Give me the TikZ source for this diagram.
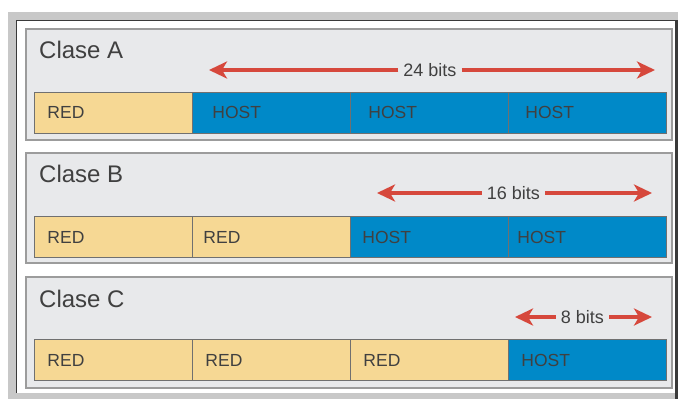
\documentclass[tikz,border=0pt]{standalone}
\usepackage{fontspec}
\setmainfont{Liberation Sans}
\usetikzlibrary{arrows.meta}
\definecolor{bandgray}{HTML}{C8C8C8}
\definecolor{darkline}{HTML}{3A3A3A}
\definecolor{panelfill}{HTML}{E8E9EB}
\definecolor{panelline}{HTML}{9C9C9C}
\definecolor{redfill}{HTML}{F6D894}
\definecolor{hostfill}{HTML}{0089C8}
\definecolor{segline}{HTML}{707070}
\definecolor{arrred}{HTML}{D6483C}
\definecolor{txt}{HTML}{404040}
\tikzset{
  panelbox/.style={draw=panelline, line width=1.6pt, fill=panelfill},
  seg/.style={draw=segline, line width=0.9pt, minimum width=158pt, minimum height=41pt,
    text width=132pt, align=left, inner xsep=13pt, inner ysep=0pt,
    text height=12.2pt, text depth=0pt, font=\fontsize{17.5}{17.5}\selectfont, text=txt, anchor=west},
  redseg/.style={seg, fill=redfill},
  hostseg/.style={seg, fill=hostfill, text=black!75},
  title/.style={anchor=base west, inner sep=0pt, font=\fontsize{24}{24}\selectfont, text=txt},
  bitslbl/.style={inner xsep=5pt, inner ysep=0pt, text height=13pt, text depth=0pt,
    font=\fontsize{18}{18}\selectfont, text=txt},
  arr/.style={draw=arrred, line width=3.6pt, -{Stealth[length=18pt,width=17pt,inset=5pt]}}
}
\begin{document}
\begin{tikzpicture}[x=1pt,y=-1pt]
\useasboundingbox (0,0) rectangle (681,399);
% outer frame
\fill[bandgray] (8,12) rectangle (678,399);
\fill[white] (16,20) rectangle (676,393);
\draw[darkline, line width=1pt] (16,393) -- (16,20.5) -- (676,20.5);
\draw[darkline, line width=3pt] (676.5,20) -- (676.5,399);
% panels
\draw[panelbox] (26,29) rectangle (672,140);
\draw[panelbox] (26,153) rectangle (672,263);
\draw[panelbox] (26,277) rectangle (672,388);
% titles
\node[title] (tA) at (39,58) {Clase A};
\node[title] (tB) at (39,182) {Clase B};
\node[title] (tC) at (39,307) {Clase C};
% Class A bar
\node[redseg]  (a1) at (34,112.5) {RED};
\node[hostseg] (a2) at (192,112.5) {\hspace*{7pt}HOST};
\node[hostseg] (a3) at (350,112.5) {\hspace*{5pt}HOST};
\node[hostseg] (a4) at (508,112.5) {\hspace*{4pt}HOST};
% Class B bar
\node[redseg]  (b1) at (34,237) {RED};
\node[redseg]  (b2) at (192,237) {\hspace*{-2pt}RED};
\node[hostseg] (b3) at (350,237) {\hspace*{-1pt}HOST};
\node[hostseg] (b4) at (508,237) {\hspace*{-4pt}HOST};
% Class C bar
\node[redseg]  (c1) at (34,360) {RED};
\node[redseg]  (c2) at (192,360) {RED};
\node[redseg]  (c3) at (350,360) {RED};
\node[hostseg] (c4) at (508,360) {HOST};
% bit arrows
\node[bitslbl] (lA) at (430,70) {24 bits};
\coordinate (aL) at (209,70);
\coordinate (aR) at (655,70);
\draw[arr] (lA.west) -- (aL);
\draw[arr] (lA.east) -- (aR);
\node[bitslbl] (lB) at (513.5,193) {16 bits};
\coordinate (bL) at (377,193);
\coordinate (bR) at (652,193);
\draw[arr] (lB.west) -- (bL);
\draw[arr] (lB.east) -- (bR);
\node[bitslbl] (lC) at (582.5,317) {8 bits};
\coordinate (cL) at (515,317);
\coordinate (cR) at (652,317);
\draw[arr] (lC.west) -- (cL);
\draw[arr] (lC.east) -- (cR);
\end{tikzpicture}
\end{document}
